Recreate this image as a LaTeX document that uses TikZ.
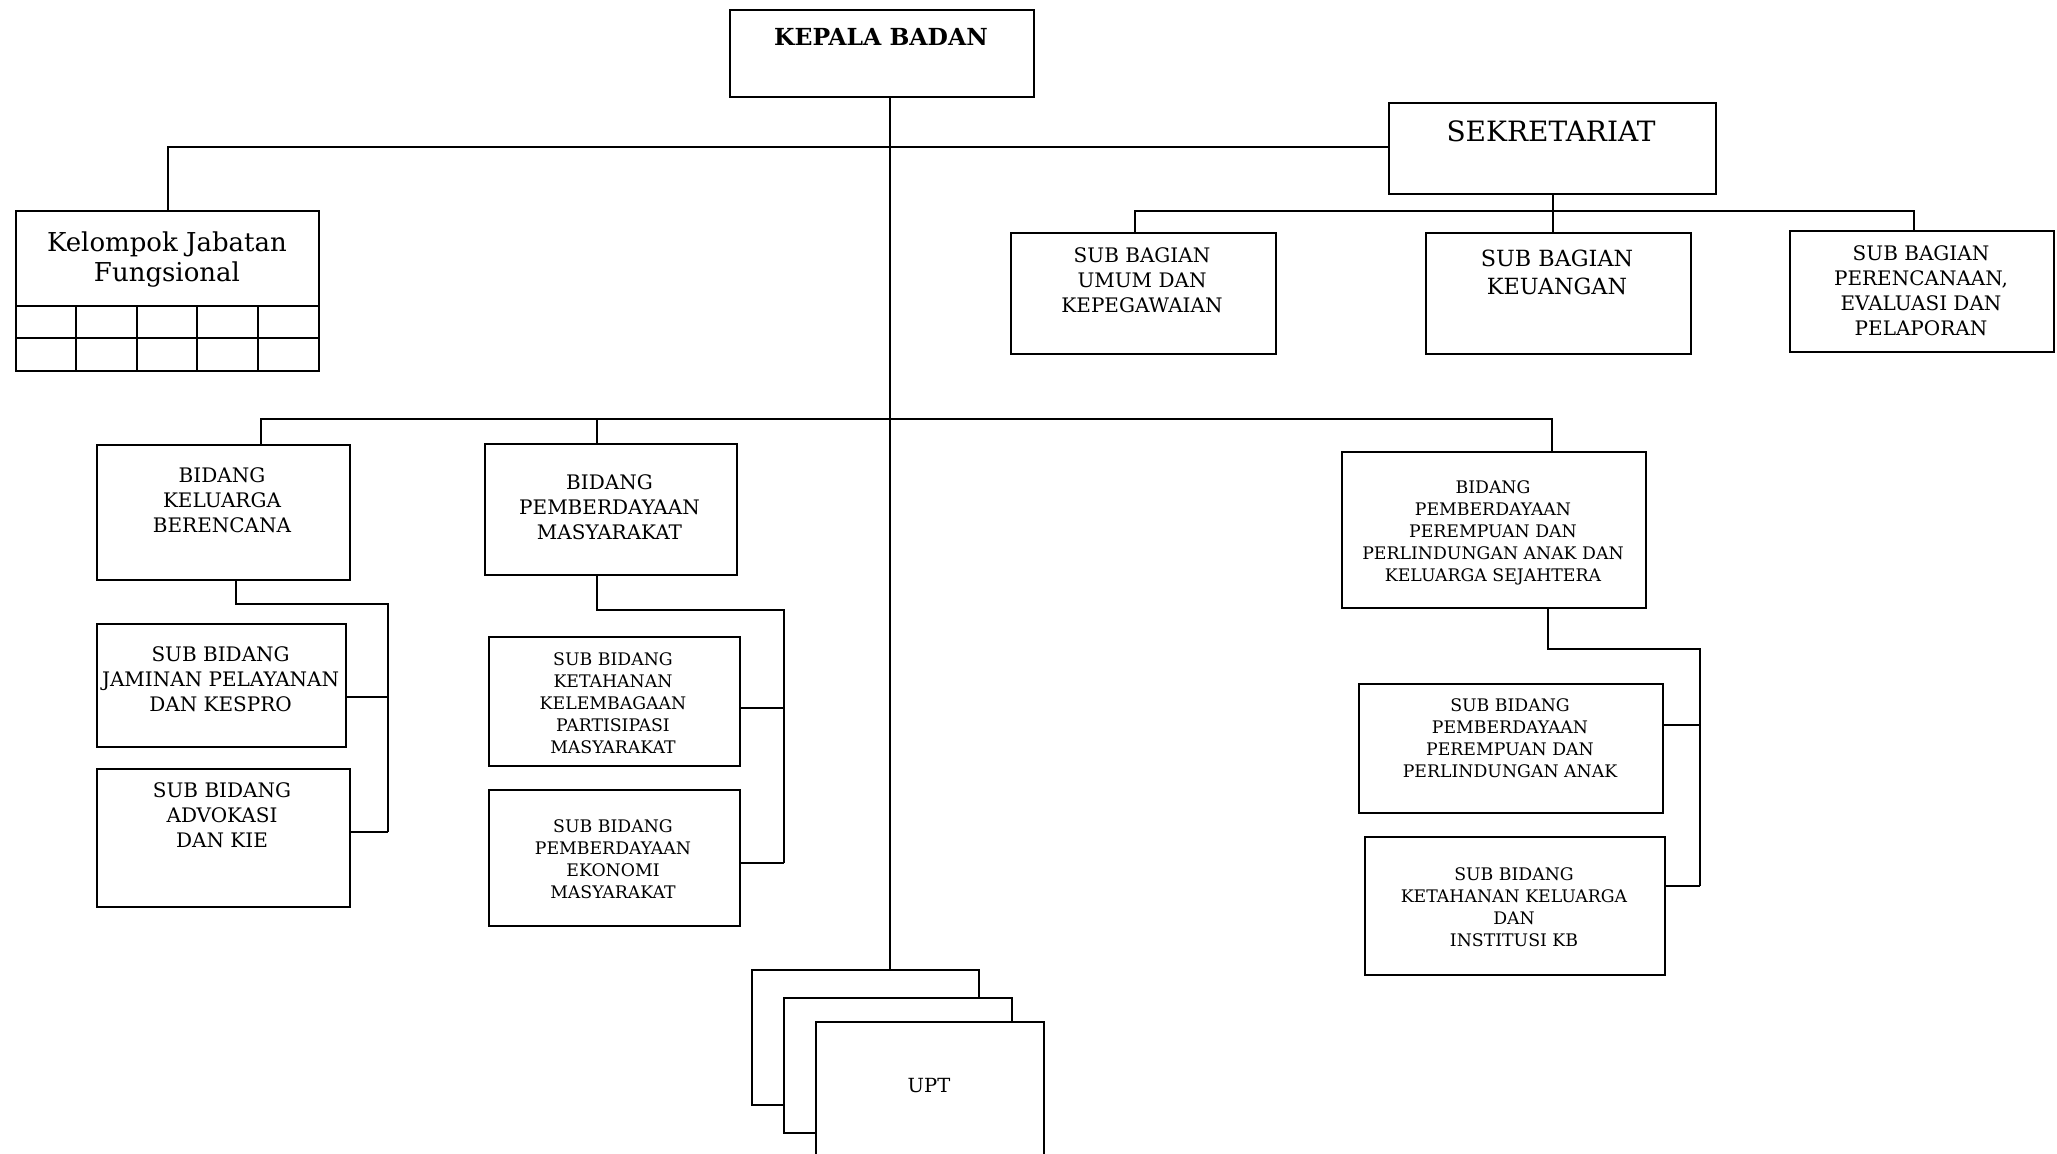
\documentclass[tikz,border=0pt]{standalone}
\usepackage{fontspec}
\setmainfont{DejaVu Serif}
\begin{document}
\begin{tikzpicture}[x=1pt,y=-1pt,
  box/.style={draw, line width=2.3pt, inner sep=0pt, anchor=north west, fill=white},
  sz/.style 2 args={minimum width=#1pt, minimum height=#2pt},
  txt/.style={align=center, inner sep=0pt},
  fA/.style={font=\fontsize{20}{25}\selectfont},
  fB/.style={font=\fontsize{17.3}{22}\selectfont},
  conn/.style={draw, line width=2.3pt}
]
\useasboundingbox (0,0) rectangle (2057,1154);

% ---- boxes ----
\node[box, sz={304}{87}] (kepala) at (729,9) {};
\node[box, sz={327}{91}] (sekr) at (1388,102) {};
\node[box, sz={303}{160}] (kjf) at (15,210) {};
\node[box, sz={265}{121}] (umum) at (1010,232) {};
\node[box, sz={265}{121}] (keu) at (1425,232) {};
\node[box, sz={264}{121}] (renc) at (1789,230) {};
\node[box, sz={253}{135}] (kb) at (96,444) {};
\node[box, sz={249}{123}] (jam) at (96,623) {};
\node[box, sz={253}{138}] (adv) at (96,768) {};
\node[box, sz={252}{131}] (pm) at (484,443) {};
\node[box, sz={251}{129}] (ket) at (488,636) {};
\node[box, sz={251}{136}] (eko) at (488,789) {};
\node[box, sz={304}{156}] (pppa) at (1341,451) {};
\node[box, sz={304}{129}] (spppa) at (1358,683) {};
\node[box, sz={300}{138}] (skk) at (1364,836) {};

% grid inside Kelompok Jabatan Fungsional
\draw[line width=2.3pt] (kjf.west |- 0,306) -- (kjf.east |- 0,306)
                        (kjf.west |- 0,338) -- (kjf.east |- 0,338);
\foreach \gx in {76,137,197,258} \draw[line width=2.3pt] (\gx,306) -- (\gx,370);

% ---- texts ----
\node[txt, font=\bfseries\fontsize{23.5}{28}\selectfont] (kepala-t) at (881,37) {KEPALA BADAN};
\node[txt, font=\fontsize{28}{32}\selectfont] (sekr-t) at (1551,131) {SEKRETARIAT};
\node[txt, font=\fontsize{26}{30}\selectfont] (kjf-t) at (167,260) {Kelompok Jabatan\\Fungsional};
\node[txt, fA] (umum-t) at (1142,280.5) {SUB BAGIAN\\UMUM DAN\\KEPEGAWAIAN};
\node[txt, font=\fontsize{22.3}{28}\selectfont] (keu-t) at (1557,272) {SUB BAGIAN\\KEUANGAN};
\node[txt, fA] (renc-t) at (1921,290.5) {SUB BAGIAN\\PERENCANAAN,\\EVALUASI DAN\\PELAPORAN};
\node[txt, fA] (kb-t) at (222,500.7) {BIDANG\\KELUARGA\\BERENCANA};
\node[txt, fA] (jam-t) at (220.6,679) {SUB BIDANG\\JAMINAN PELAYANAN\\DAN KESPRO};
\node[txt, fA] (adv-t) at (222,815.7) {SUB BIDANG\\ADVOKASI\\DAN KIE};
\node[txt, fA] (pm-t) at (609.5,506.8) {BIDANG\\PEMBERDAYAAN\\MASYARAKAT};
\node[txt, fB] (ket-t) at (613,702.7) {SUB BIDANG\\KETAHANAN\\KELEMBAGAAN\\PARTISIPASI\\MASYARAKAT};
\node[txt, fB] (eko-t) at (613,859.5) {SUB BIDANG\\PEMBERDAYAAN\\EKONOMI\\MASYARAKAT};
\node[txt, fB] (pppa-t) at (1493,533) {BIDANG\\PEMBERDAYAAN\\PEREMPUAN DAN\\PERLINDUNGAN ANAK DAN\\KELUARGA SEJAHTERA};
\node[txt, fB] (spppa-t) at (1510,738) {SUB BIDANG\\PEMBERDAYAAN\\PEREMPUAN DAN\\PERLINDUNGAN ANAK};
\node[txt, fB] (skk-t) at (1514,907) {SUB BIDANG\\KETAHANAN KELUARGA\\DAN\\INSTITUSI KB};

% ---- junction coordinates ----
\coordinate (j0) at (890,147);
\coordinate (sL) at (1135,211);
\coordinate (sR) at (1914,211);
\coordinate (bL) at (261,419);
\coordinate (bP) at (597,419);
\coordinate (bR) at (1552,419);
\coordinate (kbA) at (236,604);
\coordinate (kbV) at (388,604);
\coordinate (kbJ) at (388,697);
\coordinate (kbK) at (388,832);
\coordinate (pmA) at (597,610);
\coordinate (pmV) at (784,610);
\coordinate (pmJ) at (784,708);
\coordinate (pmK) at (784,863);
\coordinate (ppA) at (1548,649);
\coordinate (ppV) at (1700,649);
\coordinate (ppJ) at (1700,725);
\coordinate (ppK) at (1700,886);

% ---- UPT stack ----
\node[box, sz={227}{135}] (upt1) at (751,969) {};
\node[box, sz={228}{135}] (upt2) at (783,997) {};
\node[box, sz={228}{160}] (upt3) at (815,1021) {};
\node[txt, font=\fontsize{19.5}{24}\selectfont] (upt-t) at (929,1086) {UPT};

% ---- connectors ----
\draw[conn] (kepala.south -| j0) -- (j0 |- upt1.north);
\draw[conn] (kjf.north) -- (kjf.north |- j0) -- (j0 -| sekr.west);
\draw[conn] (sekr.south) -- (sekr.south |- sL);
\draw[conn] (umum.north -| sL) -- (sL) -- (sR) -- (renc.north -| sR);
\draw[conn] (keu.north -| sekr.south) -- (sekr.south |- sL);
\draw[conn] (kb.north -| bL) -- (bL) -- (bR) -- (bR |- pppa.north);
\draw[conn] (bP) -- (bP |- pm.north);
\draw[conn] (kb.south -| kbA) -- (kbA) -- (kbV) -- (kbK);
\draw[conn] (jam.east |- kbJ) -- (kbJ);
\draw[conn] (adv.east |- kbK) -- (kbK);
\draw[conn] (pm.south -| pmA) -- (pmA) -- (pmV) -- (pmK);
\draw[conn] (ket.east |- pmJ) -- (pmJ);
\draw[conn] (eko.east |- pmK) -- (pmK);
\draw[conn] (pppa.south -| ppA) -- (ppA) -- (ppV) -- (ppK);
\draw[conn] (spppa.east |- ppJ) -- (ppJ);
\draw[conn] (skk.east |- ppK) -- (ppK);
\end{tikzpicture}
\end{document}
